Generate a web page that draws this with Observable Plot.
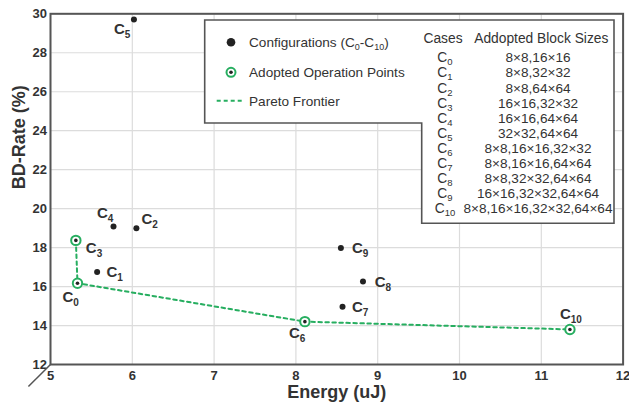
<!DOCTYPE html>
<html><head><meta charset="utf-8">
<script src="https://cdn.jsdelivr.net/npm/d3@7"></script>
<script src="https://cdn.jsdelivr.net/npm/@observablehq/plot@0.6"></script>
<style>
body{margin:0;background:#fff;font-family:"Liberation Sans",Arial,sans-serif;}
#chart svg{display:block;}
</style></head><body><div id="chart"></div>
<script>
// ---- data ----
const cases = ["C0","C1","C2","C3","C4","C5","C6","C7","C8","C9","C10"];
const energy = [5.33, 5.57, 6.05, 5.31, 5.77, 6.02, 8.11, 8.57, 8.82, 8.55, 11.35];
const bdRate = [16.17, 16.75, 18.99, 18.37, 19.08, 29.71, 14.20, 14.96, 16.26, 17.98, 13.80];
const blockSizes = ["8×8,16×16","8×8,32×32","8×8,64×64","16×16,32×32","16×16,64×64","32×32,64×64",
  "8×8,16×16,32×32","8×8,16×16,64×64","8×8,32×32,64×64","16×16,32×32,64×64","8×8,16×16,32×32,64×64"];
const paretoCases = ["C3","C0","C6","C10"];
const xTicks = [5,6,7,8,9,10,11,12];
const yTicks = [12,14,16,18,20,22,24,26,28,30];
const xTitle = "Energy (uJ)";
const yTitle = "BD-Rate (%)";
const legendLabels = ["Configurations (C0-C10)", "Adopted Operation Points", "Pareto Frontier"];
const tableHeader = ["Cases", "Addopted Block Sizes"];

// ---- presentation ----
const GREEN = "#27ae60", DARK = "#222", TEXT = "#333", FRAME = "#555";
const labelOffset = {C0:[-15,13.7], C1:[9.3,0.5], C2:[5,-8.7], C3:[10,7.3], C4:[-16.6,-13.6],
  C5:[-20,9.3], C6:[-16,12], C7:[9.4,0], C8:[11.7,0.4], C9:[11,0.6], C10:[-10,-15]};

const points = cases.map((c,i)=>({c, x:energy[i], y:bdRate[i], sizes:blockSizes[i]}));
const pareto = paretoCases.map(c=>points.find(p=>p.c===c));

const plot = Plot.plot({
  width: 629, height: 408,
  marginLeft: 50, marginRight: 6.4, marginTop: 13.3, marginBottom: 44,
  style: {fontFamily: '"Liberation Sans", Arial, sans-serif', background: "#fff", color: TEXT},
  x: {domain: [5,12]},
  y: {domain: [12,30]},
  marks: [
    Plot.gridX(xTicks, {stroke: "#dcdcdc", strokeOpacity: 1, strokeWidth: 1.2}),
    Plot.gridY(yTicks, {stroke: "#dcdcdc", strokeOpacity: 1, strokeWidth: 1.2}),
    Plot.axisX(xTicks, {tickSize: 0, tickPadding: 6.5, fontSize: 13, fontWeight: "bold", fill: TEXT, label: null}),
    Plot.axisY(yTicks, {tickSize: 0, tickPadding: 3.5, fontSize: 13, fontWeight: "bold", fill: TEXT, label: null}),
    Plot.text([xTitle], {frameAnchor: "bottom", dy: 27.7, fontSize: 18, fontWeight: "bold", fill: TEXT, lineAnchor: "middle"}),
    Plot.text([yTitle], {frameAnchor: "left", dx: -31.5, rotate: -90, fontSize: 18, fontWeight: "bold", fill: TEXT, lineAnchor: "middle"}),
    Plot.frame({stroke: FRAME, strokeWidth: 2}),
    Plot.link([0], {x1: () => 5, y1: () => 12, x2: () => 4.73, y2: () => 10.87, stroke: FRAME, strokeWidth: 1.5}),
    Plot.line(pareto, {x: "x", y: "y", stroke: GREEN, strokeWidth: 2, strokeDasharray: "3.5,3.5"}),
    Plot.dot(points.filter(p=>!paretoCases.includes(p.c)), {x: "x", y: "y", r: 3, fill: DARK, stroke: "none"}),
    Plot.dot(pareto, {x: "x", y: "y", r: 4.7, fill: "#fff", stroke: GREEN, strokeWidth: 2}),
    Plot.dot(pareto, {x: "x", y: "y", r: 1.8, fill: DARK, stroke: "none"}),
    ...points.map(p => Plot.text([p], {x: "x", y: "y", text: "c", dx: labelOffset[p.c][0], dy: labelOffset[p.c][1],
      textAnchor: "start", lineAnchor: "middle", fontSize: 15, fontWeight: "bold", fill: TEXT}))
  ]
});
document.getElementById("chart").appendChild(plot);

const svgns = "http://www.w3.org/2000/svg";
// "C" + digits -> C with subscript digits
function subLabel(el, str, subSize, shift) {
  el.textContent = "";
  const re = /C(\d+)/g; let last = 0, m, pending = 0;
  const add = (txt, attrs) => {
    if (!txt) return;
    const ts = document.createElementNS(svgns, "tspan"); ts.textContent = txt;
    for (const k in attrs) ts.setAttribute(k, attrs[k]);
    el.appendChild(ts);
  };
  while ((m = re.exec(str))) {
    const before = str.slice(last, m.index) + "C";
    add(before, pending ? {dy: pending} : {}); pending = 0;
    add(m[1], {"font-size": subSize, dy: shift}); pending = -shift;
    last = m.index + m[0].length;
  }
  add(str.slice(last), pending ? {dy: pending} : {});
}
d3.select(plot).selectAll("text").each(function(){
  const t = this.textContent;
  if (/^C\d+$/.test(t)) subLabel(this, t, 10, 4);
});

// ---- legend + table box ----
const svg = d3.select(plot);
const g = svg.append("g").attr("font-family", '"Liberation Sans", Arial, sans-serif').attr("text-anchor", "start");
g.append("path")
  .attr("d", "M204.7,20 H614 V223.3 H421.7 V123 H204.7 Z")
  .attr("fill", "#fff").attr("stroke", FRAME).attr("stroke-width", 1.6);
// legend items
g.append("circle").attr("cx", 231).attr("cy", 42.3).attr("r", 4.3).attr("fill", DARK);
g.append("circle").attr("cx", 231).attr("cy", 72.3).attr("r", 4.5).attr("fill", "#fff").attr("stroke", GREEN).attr("stroke-width", 2);
g.append("circle").attr("cx", 231).attr("cy", 72.3).attr("r", 1.8).attr("fill", DARK);
g.append("line").attr("x1", 216.7).attr("x2", 244).attr("y1", 100.7).attr("y2", 100.7)
  .attr("stroke", GREEN).attr("stroke-width", 2).attr("stroke-dasharray", "4,3");
[42.3, 72.3, 100.7].forEach((y, i) => {
  const t = g.append("text").attr("x", 249).attr("y", y + 4.8).attr("text-anchor", "start")
    .attr("font-size", 13.6).attr("fill", TEXT);
  subLabel(t.node(), legendLabels[i], 9, 3);
});
// table
const TFS = 13.8;
g.append("text").attr("x", 443).attr("y", 38.3 + 5).attr("text-anchor", "middle")
  .attr("font-size", TFS).attr("fill", TEXT).text(tableHeader[0]);
g.append("text").attr("x", 541.3).attr("y", 38.3 + 5).attr("text-anchor", "middle")
  .attr("font-size", TFS).attr("fill", TEXT).text(tableHeader[1]);
cases.forEach((c, i) => {
  const y = 57.4 + i * 15.09 + 5;
  const t = g.append("text").attr("x", 445).attr("y", y).attr("text-anchor", "middle")
    .attr("font-size", TFS).attr("fill", TEXT);
  subLabel(t.node(), c, 9.5, 3);
  g.append("text").attr("x", 538).attr("y", y).attr("text-anchor", "middle")
    .attr("font-size", 13.6).attr("fill", TEXT).text(blockSizes[i]);
});
</script></body></html>
